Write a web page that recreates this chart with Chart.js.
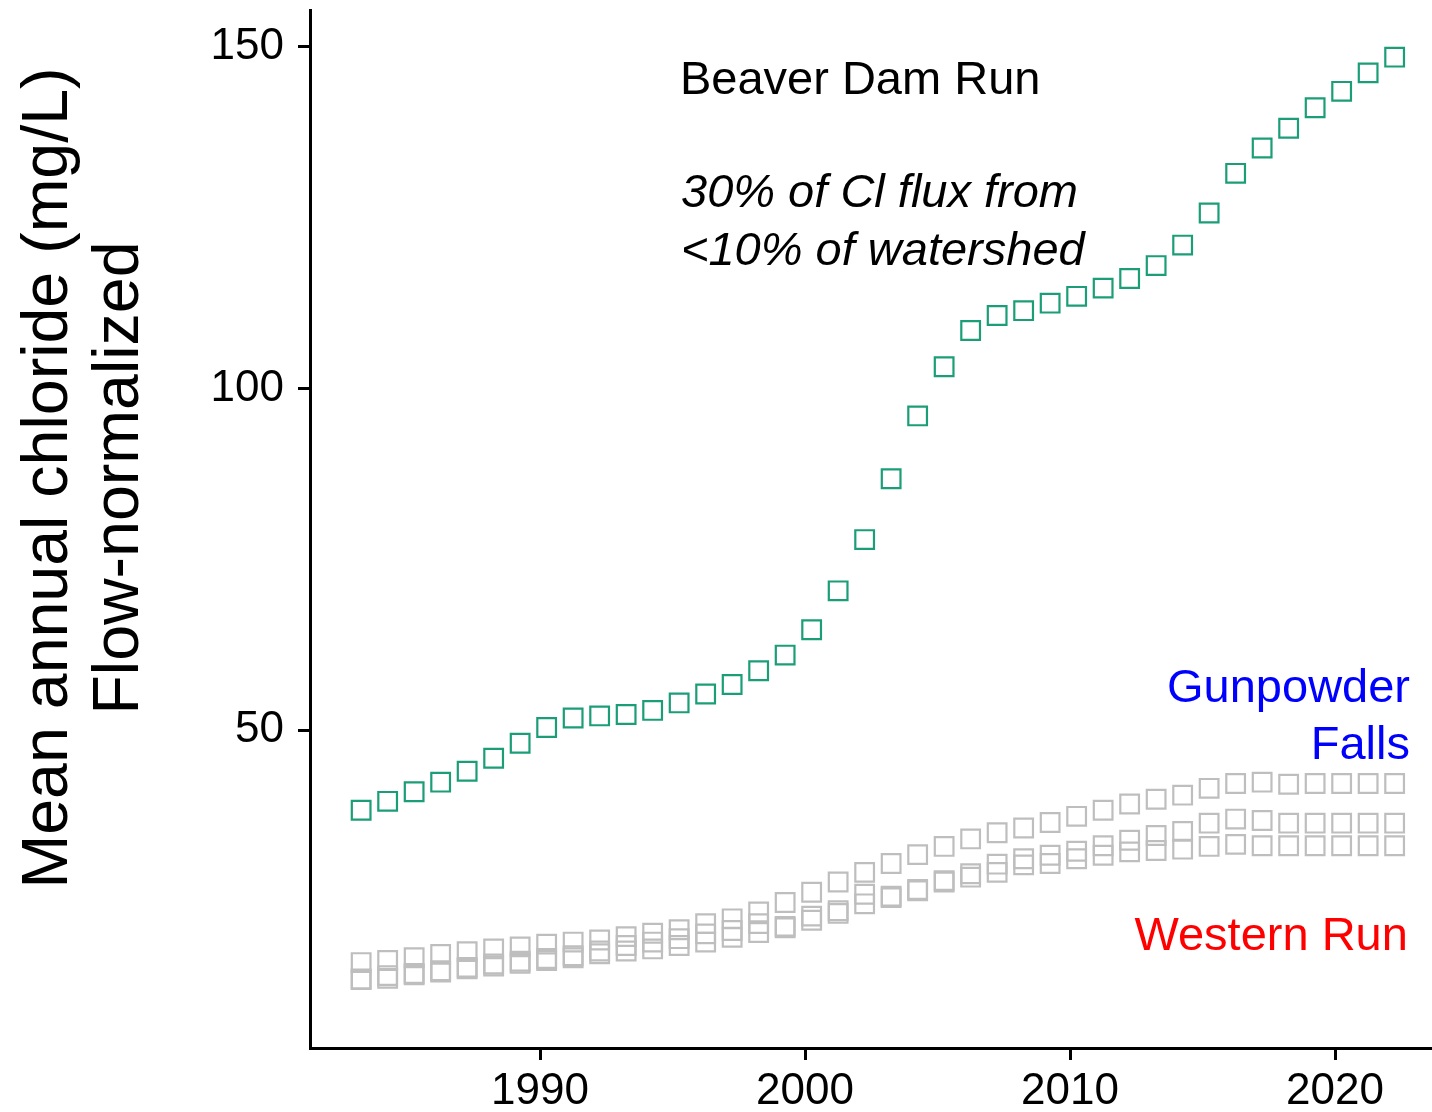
<!DOCTYPE html>
<html>
<head>
<meta charset="utf-8">
<script src="https://cdn.jsdelivr.net/npm/chart.js@4.4.0/dist/chart.umd.min.js"></script>
<style>
    body {
        margin: 0;
        background-color: #fff;
    }
    #wrapper-chart {
        width: 1432px;
        height: 1112px;
    }
</style>
</head>
<body>
<div id="wrapper-chart">
    <canvas id="chloride-chart" width="1432" height="1112"></canvas>
</div>
<script>
    // water years, plotted at the quarter mark like the original
    const waterYear = [
        1983.25, 1984.25, 1985.25, 1986.25, 1987.25, 1988.25, 1989.25, 1990.25, 1991.25, 1992.25,
        1993.25, 1994.25, 1995.25, 1996.25, 1997.25, 1998.25, 1999.25, 2000.25, 2001.25, 2002.25,
        2003.25, 2004.25, 2005.25, 2006.25, 2007.25, 2008.25, 2009.25, 2010.25, 2011.25, 2012.25,
        2013.25, 2014.25, 2015.25, 2016.25, 2017.25, 2018.25, 2019.25, 2020.25, 2021.25, 2022.25,
    ]

    const beaverDamRun = [
        38.3, 39.6, 41.0, 42.4, 44.0, 45.9, 48.1, 50.4, 51.8, 52.1,
        52.3, 52.9, 54.0, 55.3, 56.7, 58.7, 61.0, 64.7, 70.4, 77.9,
        86.8, 96.0, 103.2, 108.5, 110.7, 111.4, 112.5, 113.5, 114.7, 116.1,
        118.0, 121.0, 125.7, 131.5, 135.2, 138.1, 141.1, 143.5, 146.2, 148.5,
    ]

    // other sites, all drawn in grey
    const greyTop = [
        16.0, 16.3, 16.7, 17.2, 17.6, 18.0, 18.3, 18.7, 19.0, 19.3,
        19.8, 20.3, 20.8, 21.7, 22.4, 23.4, 24.8, 26.3, 27.8, 29.2,
        30.5, 31.8, 33.0, 34.1, 35.0, 35.7, 36.5, 37.4, 38.3, 39.2,
        39.9, 40.5, 41.5, 42.2, 42.4, 42.1, 42.2, 42.2, 42.2, 42.2,
    ]
    const greyMid = [
        13.6, 14.1, 14.4, 14.8, 15.3, 15.8, 16.2, 16.6, 17.0, 17.7,
        18.5, 19.0, 19.5, 20.2, 20.7, 21.7, 21.3, 22.8, 23.6, 26.0,
        25.7, 26.7, 28.0, 29.0, 30.4, 31.2, 31.7, 32.3, 33.1, 33.9,
        34.6, 35.2, 36.4, 37.0, 36.8, 36.4, 36.4, 36.4, 36.4, 36.4,
    ]
    const greyLow = [
        13.5, 13.7, 14.2, 14.6, 15.1, 15.5, 15.9, 16.3, 16.7, 17.3,
        17.7, 18.0, 18.5, 19.0, 19.7, 20.4, 21.1, 22.2, 23.2, 24.6,
        25.5, 26.5, 27.8, 28.5, 29.2, 30.3, 30.5, 31.2, 31.7, 32.2,
        32.4, 32.6, 33.0, 33.3, 33.1, 33.1, 33.1, 33.1, 33.1, 33.1,
    ]

    const xTicks = [1990, 2000, 2010, 2020]
    const yTicks = [50, 100, 150]
    const yTitle = ['Mean annual chloride (mg/L)', 'Flow-normalized']

    const FONT = '"Liberation Sans", Arial, Helvetica, sans-serif'

    // text labels inside the panel, anchored in data units
    const notes = [
        { text: 'Beaver Dam Run', x: 1995.28, y: 143.1, color: '#000', italic: false, align: 'left' },
        { text: '30% of Cl flux from', x: 1995.32, y: 126.6, color: '#000', italic: true, align: 'left' },
        { text: '<10% of watershed', x: 1995.32, y: 118.1, color: '#000', italic: true, align: 'left' },
        { text: 'Gunpowder', x: 2022.83, y: 54.1, color: '#0000ff', italic: false, align: 'right' },
        { text: 'Falls', x: 2022.83, y: 45.75, color: '#0000ff', italic: false, align: 'right' },
        { text: 'Western Run', x: 2022.75, y: 17.9, color: '#ff0000', italic: false, align: 'right' },
    ]

    function toPoints(values) {
        return values.map((v, i) => ({ x: waterYear[i], y: v }))
    }

    function squares(values, color) {
        return {
            data: toPoints(values),
            showLine: false,
            pointStyle: 'rect',
            pointRadius: 13.2,
            pointHoverRadius: 13.2,
            pointBorderWidth: 2.2,
            borderColor: color,
            backgroundColor: 'rgba(0,0,0,0)',
        }
    }

    const notesPlugin = {
        id: 'notes',
        afterDraw(chart) {
            const ctx = chart.ctx
            const xs = chart.scales.x
            const ys = chart.scales.y
            ctx.save()
            ctx.textBaseline = 'alphabetic'
            notes.forEach((n) => {
                ctx.font = (n.italic ? 'italic ' : '') + '47px ' + FONT
                ctx.fillStyle = n.color
                ctx.textAlign = n.align
                ctx.fillText(n.text, xs.getPixelForValue(n.x), ys.getPixelForValue(n.y))
            })

            // two-line y axis title, rotated
            ctx.font = '64.5px ' + FONT
            ctx.fillStyle = '#000'
            ctx.textAlign = 'center'
            ctx.textBaseline = 'middle'
            const lineX = [49, 120]
            yTitle.forEach((line, i) => {
                ctx.save()
                ctx.translate(lineX[i], 478)
                ctx.rotate(-Math.PI / 2)
                ctx.fillText(line, 0, 0)
                ctx.restore()
            })
            ctx.restore()
        },
    }

    const ctx = document.getElementById('chloride-chart').getContext('2d')
    new Chart(ctx, {
        type: 'scatter',
        data: {
            datasets: [
                squares(beaverDamRun, '#1b9e77'),
                squares(greyTop, '#bebebe'),
                squares(greyMid, '#bebebe'),
                squares(greyLow, '#bebebe'),
            ],
        },
        options: {
            responsive: false,
            animation: false,
            devicePixelRatio: 1,
            layout: {
                autoPadding: false,
                padding: { top: 10, right: 0, left: 0, bottom: 0 },
            },
            plugins: {
                legend: { display: false },
                tooltip: { enabled: false },
            },
            scales: {
                x: {
                    type: 'linear',
                    min: 1981.32,
                    max: 2023.66,
                    afterBuildTicks: (scale) => {
                        scale.ticks = xTicks.map((v) => ({ value: v }))
                    },
                    afterFit: (scale) => {
                        scale.height = 64
                        scale.paddingLeft = 0
                        scale.paddingRight = 0
                    },
                    border: { display: true, color: '#000', width: 3 },
                    grid: {
                        drawOnChartArea: false,
                        drawTicks: true,
                        tickLength: 12,
                        color: '#000',
                        lineWidth: 3,
                    },
                    ticks: {
                        color: '#000',
                        padding: 5,
                        maxRotation: 0,
                        font: { family: FONT, size: 44 },
                        callback: (v) => String(v),
                    },
                },
                y: {
                    type: 'linear',
                    min: 3.5,
                    max: 155.4,
                    afterBuildTicks: (scale) => {
                        scale.ticks = yTicks.map((v) => ({ value: v }))
                    },
                    afterFit: (scale) => {
                        scale.width = 310
                        scale.paddingTop = 0
                        scale.paddingBottom = 0
                    },
                    border: { display: true, color: '#000', width: 3 },
                    grid: {
                        drawOnChartArea: false,
                        drawTicks: true,
                        tickLength: 12,
                        color: '#000',
                        lineWidth: 3,
                    },
                    ticks: {
                        color: '#000',
                        padding: 14,
                        font: { family: FONT, size: 44 },
                        callback: (v) => String(v),
                    },
                },
            },
        },
        plugins: [notesPlugin],
    })
</script>
</body>
</html>
